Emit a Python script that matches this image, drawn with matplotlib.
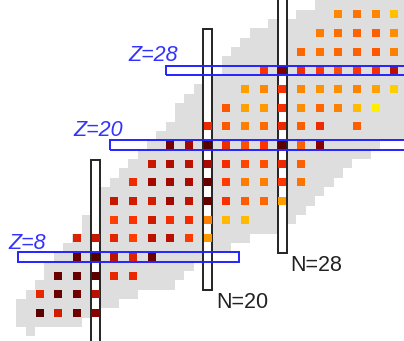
import numpy as np
import matplotlib
matplotlib.use("Agg")
import matplotlib.pyplot as plt
from matplotlib.colors import LinearSegmentedColormap, LogNorm
from matplotlib.patches import Rectangle

# known nuclides: lightest and heaviest N for every Z
nuc_Z = list(range(0, 37))
nuc_Nmin = [1, 0, 0, 0, 1, 2, 3, 3, 4, 5, 6, 7, 7, 8, 8, 9, 10, 11, 12, 13,
            14, 15, 16, 17, 17, 18, 19, 21, 22, 22, 23, 24, 25, 27, 30, 32, 33]
nuc_Nmax = [1, 6, 8, 10, 12, 16, 17, 18, 20, 22, 24, 28, 29, 30, 31, 32, 33, 34, 35, 37,
            38, 45, 45, 45, 45, 45, 45, 45, 45, 45, 45, 45, 45, 45, 45, 45, 45]

# even-even nuclei: first N of each row, then E(2+) in MeV every 2 neutrons
ee_Z = [2, 4, 6, 8, 10, 12, 14, 16, 18, 20, 22, 24, 26, 28, 30, 32, 34, 36]
ee_N0 = [2, 2, 4, 6, 6, 10, 10, 12, 14, 16, 20, 22, 24, 26, 30, 32, 34, 36]
ee_E2 = [
    [3.7, 1.80, 3.1, 2.5],
    [1.6, 3.25, 3.1, 2.0],
    [3.3, 3.3, 3.7, 1.6, 1.55],
    [3.3, 4.0, 1.98, 1.67, 3.2],
    [1.69, 1.89, 1.63, 1.27, 1.98, 2.02, 1.30, 0.79],
    [1.25, 1.37, 1.81, 1.47, 1.48, 0.885, 0.66, 0.66],
    [1.88, 1.80, 1.78, 2.24, 1.94, 3.33, 1.41, 1.07, 0.99, 0.77],
    [1.51, 2.21, 2.23, 2.13, 3.29, 1.29, 0.90, 0.89, 1.33, 0.94],
    [1.87, 2.09, 1.97, 2.17, 1.46, 1.21, 1.14, 1.55, 1.04],
    [3.05, 2.21, 3.90, 1.52, 1.16, 1.35, 3.83, 1.03, 2.56],
    [1.55, 1.08, 0.89, 0.98, 1.55, 1.05, 1.50, np.nan, 1.05],
    [1.1, 0.75, 0.78, 1.43, 0.83, 1.01, 0.88, 0.65, 0.45],
    [0.76, 0.85, 1.41, 0.85, 0.81, 0.82, 0.88, 0.75, 0.57],
    [1.39, 2.70, 1.45, 1.33, 1.17, 1.35, 1.43, 2.03],
    [1.00, 0.95, 0.99, 1.04, 1.08, 0.88],
    [0.90, 0.96, 1.02, 1.04, 0.83],
    [0.85, 0.94, 0.86, 0.63],
    [0.71, 0.46, 0.42],
]

magic = [8, 20, 28]

# colour scale for E(2+)
norm = LogNorm(vmin=0.45, vmax=4.0)
stops = [0.45, 0.65, 0.85, 1.0, 1.35, 1.7, 2.0, 2.5, 4.0]
stop_cols = ["#ffee00", "#ffbb00", "#ff8800", "#ff6600", "#ff3300",
             "#dd2200", "#bb1100", "#880000", "#550000"]
cmap = LinearSegmentedColormap.from_list(
    "e2", list(zip([float(norm(s)) for s in stops], stop_cols)))

fig = plt.figure(figsize=(4.04, 3.41), dpi=100)
ax = fig.add_axes([0, 0, 1, 1])
ax.set_xlim(-2.26, 41.04)
ax.set_ylim(-1.01, 35.54)
ax.axis("off")

# grey band of known nuclides
widths = np.array(nuc_Nmax) - np.array(nuc_Nmin) + 1
ax.barh(nuc_Z, widths, left=np.array(nuc_Nmin) - 0.5, height=1.0,
        color="#dedede", linewidth=0, zorder=1)

# magic neutron numbers: white columns with dark outline
col_span = {8: (-3.0, 18.4), 20: (4.5, 32.4), 28: (8.4, 40.0)}
for n in magic:
    z0, z1 = col_span[n]
    ax.add_patch(Rectangle((n - 0.5, z0), 1.0, z1 - z0, facecolor="white",
                           edgecolor="#222222", linewidth=1.4, zorder=2))

# coloured squares for even-even nuclei
sq = 0.86
for z, n0, vals in zip(ee_Z, ee_N0, ee_E2):
    vals = np.array(vals, dtype=float)
    ns = n0 + 2 * np.arange(len(vals))
    ok = ~np.isnan(vals)
    ax.bar(ns[ok], sq, bottom=z - sq / 2, width=sq,
           color=cmap(norm(vals[ok])), linewidth=0, zorder=3)

# magic proton numbers: blue rows
row_span = {8: (-0.3, 23.4), 20: (9.5, 45.0), 28: (15.5, 45.0)}
for z in magic:
    n0, n1 = row_span[z]
    ax.add_patch(Rectangle((n0, z - 0.5), n1 - n0, 1.0, facecolor="none",
                           edgecolor="#2222ff", linewidth=1.4, zorder=4))

# labels
fs = 15.5
font = "Liberation Sans"
ax.text(-1.40, 8.85, "Z=8", color="#3333ff", fontsize=fs, family=font,
        style="italic", va="baseline")
ax.text(5.56, 20.96, "Z=20", color="#3333ff", fontsize=fs, family=font,
        style="italic", va="baseline")
ax.text(11.46, 29.0, "Z=28", color="#3333ff", fontsize=fs, family=font,
        style="italic", va="baseline")
ax.text(20.89, 2.53, "N=20", color="#222222", fontsize=fs, family=font,
        va="baseline")
ax.text(28.82, 6.5, "N=28", color="#222222", fontsize=fs, family=font,
        va="baseline")

fig.savefig("out.png", dpi=100)
